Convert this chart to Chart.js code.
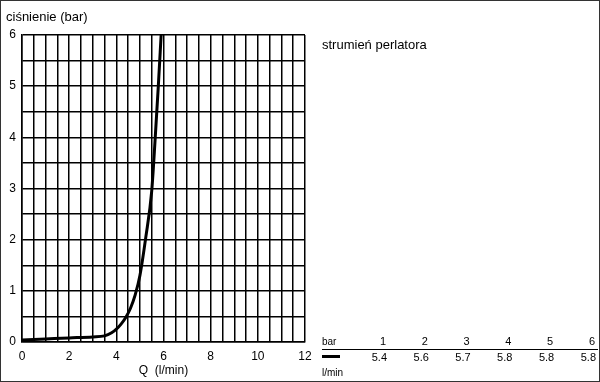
<!DOCTYPE html>
<html>
<head>
<meta charset="utf-8">
<script src="https://cdn.jsdelivr.net/npm/chart.js@4/dist/chart.umd.min.js"></script>
<style>
  html, body { margin: 0; padding: 0; background: #fff; }
  #wrap { position: relative; width: 600px; height: 382px; overflow: hidden; font-family: "Liberation Sans", Arial, sans-serif; color: #000; }
  #frame { position: absolute; left: 0; top: 0; width: 600px; height: 382px; box-sizing: border-box; border: 1px solid #333; pointer-events: none; }
  .t { position: absolute; white-space: nowrap; line-height: 1; }
</style>
</head>
<body>
<div id="wrap">
  <canvas id="c" width="600" height="382"></canvas>
  <div id="overlay"></div>
  <div id="frame"></div>
</div>
<script>
// ---- data ----
const flowQ       = [0, 1, 2, 3, 3.5, 3.8, 4.0, 4.2, 4.4, 4.6, 4.8, 5.0, 5.25, 5.5, 5.65, 5.78, 5.9];
const pressureBar = [0.04, 0.06, 0.08, 0.10, 0.12, 0.18, 0.25, 0.35, 0.48, 0.66, 0.92, 1.3, 2.05, 2.95, 4.0, 5.0, 6.0];
const xTickLabels = [0, 2, 4, 6, 8, 10, 12];
const yTickLabels = [0, 1, 2, 3, 4, 5, 6];
const tableBar    = [1, 2, 3, 4, 5, 6];
const tableFlow   = ["5.4", "5.6", "5.7", "5.8", "5.8", "5.8"];
const yTitle      = "ciśnienie (bar)";
const xTitle      = "Q  (l/min)";
const seriesName  = "strumień perlatora";

const FONT = '"Liberation Sans", Arial, sans-serif';

new Chart(document.getElementById('c'), {
  type: 'line',
  data: {
    datasets: [{
      label: seriesName,
      data: flowQ.map((q, i) => ({ x: q, y: pressureBar[i] })),
      borderColor: '#000',
      borderWidth: 3,
      pointRadius: 0,
      cubicInterpolationMode: 'monotone',
      fill: false,
      clip: 4
    }]
  },
  options: {
    responsive: false,
    animation: false,
    devicePixelRatio: 1,
    layout: { padding: { top: 35, left: 0, right: 295, bottom: 0 } },
    plugins: { legend: { display: false }, tooltip: { enabled: false } },
    scales: {
      x: {
        type: 'linear', min: 0, max: 12,
        afterFit: s => { s.height = 40; },
        grid: { color: '#000', lineWidth: 1.5, drawTicks: false },
        border: { color: '#000', width: 1.5 },
        ticks: {
          stepSize: 0.5, autoSkip: false, maxRotation: 0, padding: 7,
          color: '#000', font: { family: FONT, size: 12 },
          callback: v => xTickLabels.includes(v) ? String(v) : ''
        },
        title: { display: true, text: xTitle, color: '#000', font: { family: FONT, size: 12 }, padding: { top: 0, bottom: 4 } }
      },
      y: {
        type: 'linear', min: 0, max: 6,
        afterFit: s => { s.width = 22; },
        grid: { color: '#000', lineWidth: 1.5, drawTicks: false },
        border: { color: '#000', width: 1.5 },
        ticks: {
          stepSize: 0.5, autoSkip: false, padding: 6,
          color: '#000', font: { family: FONT, size: 12 },
          callback: v => yTickLabels.includes(v) ? String(v) : ''
        }
      }
    }
  }
});

// ---- annotation texts and the small table ----
const ov = document.getElementById('overlay');
function txt(s, left, top, size, align) {
  const d = document.createElement('div');
  d.className = 't';
  d.textContent = s;
  d.style.fontSize = size + 'px';
  d.style.top = top + 'px';
  if (align === 'right') { d.style.right = (600 - left) + 'px'; } else { d.style.left = left + 'px'; }
  ov.appendChild(d);
  return d;
}
txt(yTitle, 6, 10, 13);
txt(seriesName, 322, 38, 13);
txt('bar', 322, 337, 10);
tableBar.forEach((b, i) => txt(String(b), 386 + i * 41.8, 336, 11, 'right'));
tableFlow.forEach((f, i) => txt(f, 387 + i * 41.8, 352, 11, 'right'));
txt('l/min', 322, 368, 10);
const rule = document.createElement('div');
rule.style.cssText = 'position:absolute;left:322px;top:349px;width:276px;height:1px;background:#000;';
ov.appendChild(rule);
const swatch = document.createElement('div');
swatch.style.cssText = 'position:absolute;left:322px;top:355px;width:18px;height:3px;background:#000;';
ov.appendChild(swatch);
</script>
</body>
</html>
